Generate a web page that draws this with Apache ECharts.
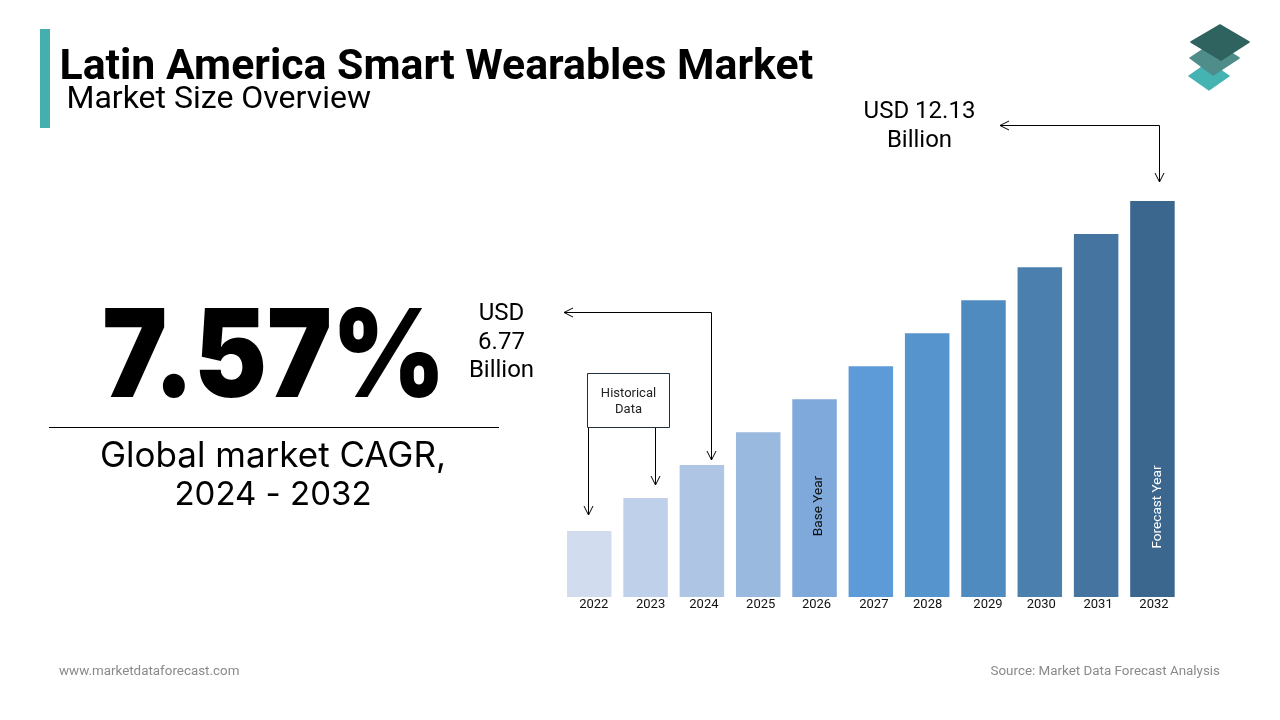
<!DOCTYPE html>
<html>
<head>
<meta charset="utf-8">
<title>Latin America Smart Wearables Market</title>
<script src="https://cdn.jsdelivr.net/npm/echarts@6/dist/echarts.min.js"></script>
<style>
    html, body { margin: 0; padding: 0; background: #fff; }
    #chart { width: 1280px; height: 720px; }
</style>
</head>
<body>
<div id="chart"></div>
<script>
// Values (the picture's scale ends at 12.13 for 2032)
var years = ['2022', '2023', '2024', '2025', '2026', '2027', '2028', '2029', '2030', '2031', '2032'];
var marketSize = [2.02, 3.03, 4.04, 5.05, 6.06, 7.07, 8.08, 9.09, 10.10, 11.12, 12.13];
var barColors = ['#d1ddee', '#bfd1ea', '#aec6e4', '#9ab9df', '#7fa9da', '#5c9bd8', '#5594cc', '#4f8bbf', '#4a7fae', '#44749f', '#3b678f'];

// the year labels in the picture sit a little off the bar centres
var labelPadLeft = [9, 10, 4, 5, 4, 6, 1, 9, 3, 4, 3];

var chart = echarts.init(document.getElementById('chart'));

function text(x, y, str, size, opts) {
    opts = opts || {};
    return {
        type: 'text',
        x: x,
        y: y,
        scaleX: opts.scaleX || 1,
        rotation: opts.rotation || 0,
        z: 20,
        style: {
            text: str,
            fill: opts.color || '#000',
            font: (opts.weight || 'normal') + ' ' + size + 'px ' + (opts.family || 'Roboto'),
            textAlign: opts.align || 'left',
            textVerticalAlign: 'middle'
        }
    };
}

// line with an open arrow head at its last point
function arrow(points) {
    var a = points[points.length - 2];
    var b = points[points.length - 1];
    var head = a[0] === b[0]
        ? [[b[0] - 4.5, b[1] - 9], b, [b[0] + 4.5, b[1] - 9]]
        : [[b[0] + 9, b[1] - 4.5], b, [b[0] + 9, b[1] + 4.5]];
    var lineStyle = { stroke: '#000', lineWidth: 1, fill: null };
    return [
        { type: 'polyline', z: 20, shape: { points: points }, style: lineStyle },
        { type: 'polyline', z: 20, shape: { points: head }, style: lineStyle }
    ];
}

function diamond(points, color) {
    return {
        type: 'polygon',
        z: 20,
        shape: { points: points },
        style: { fill: color, stroke: color, lineWidth: 1.5, lineJoin: 'round' }
    };
}

var graphics = [
    // header
    { type: 'rect', z: 20, shape: { x: 40, y: 29, width: 10, height: 99 }, style: { fill: '#45aeae' } },
    text(59.5, 68, 'Latin America Smart Wearables Market', 42.8, { weight: 'bold' }),
    text(66.5, 100, 'Market Size Overview', 32),

    // logo
    diamond([[1209, 62], [1229, 76], [1209, 90], [1189, 76]], '#46b3b3'),
    diamond([[1214, 42], [1239, 58], [1213, 75], [1190, 58]], '#4f8d8a'),
    diamond([[1220, 25], [1249, 42], [1221, 60], [1191, 42]], '#2f6360'),

    // CAGR block
    text(274, 360, '7.57%', 122, { weight: 900, family: 'Inter', align: 'center', scaleX: 0.895 }),
    { type: 'line', z: 20, shape: { x1: 49, y1: 427.5, x2: 499, y2: 427.5 }, style: { stroke: '#000', lineWidth: 1 } },
    text(273, 456, 'Global market CAGR,', 35, { family: 'Inter', align: 'center' }),
    text(273, 495, '2024 - 2032', 33, { family: 'Inter', align: 'center' }),

    // value callouts
    text(919.5, 112, 'USD 12.13', 24, { align: 'center' }),
    text(919.5, 141, 'Billion', 24, { align: 'center' }),
    text(501.5, 314, 'USD', 24, { align: 'center' }),
    text(501.5, 343, '6.77', 24, { align: 'center' }),
    text(501.5, 371, 'Billion', 24, { align: 'center' }),

    // historical data box
    { type: 'rect', z: 20, shape: { x: 587.5, y: 373.5, width: 82, height: 54 }, style: { fill: '#fff', stroke: '#1f3040', lineWidth: 1 } },
    text(628.5, 394, 'Historical', 13, { align: 'center', color: '#222' }),
    text(628.5, 410, 'Data', 13, { align: 'center', color: '#222' }),

    // text on the bars
    text(819, 506, 'Base Year', 13.6, { align: 'center', rotation: Math.PI / 2, color: '#111' }),
    text(1158, 507, 'Forecast Year', 13.6, { align: 'center', rotation: Math.PI / 2, color: '#fff' }),

    // footer
    text(59, 672, 'www.marketdataforecast.com', 13.4, { color: '#8a8a8a' }),
    text(1220, 672, 'Source: Market Data Forecast Analysis', 13.4, { color: '#8a8a8a', align: 'right' })
]
    .concat(arrow([[588.5, 428], [588.5, 515]]))
    .concat(arrow([[655.5, 428], [655.5, 485]]))
    .concat(arrow([[711.5, 312.5], [711.5, 460]]))
    .concat(arrow([[711.5, 312.5], [564, 312.5]]))
    .concat(arrow([[1159.5, 125.5], [1159.5, 182]]))
    .concat(arrow([[1159.5, 125.5], [1000, 125.5]]));

var options = {
    animation: false,
    grid: { left: 561.1, top: 201, width: 619.5, height: 396 },
    xAxis: {
        type: 'category',
        data: years.map(function (y, i) {
            return { value: y, textStyle: { padding: [0, 0, 0, labelPadLeft[i]] } };
        }),
        axisLine: { show: false },
        axisTick: { show: false },
        axisLabel: {
            color: '#111',
            fontFamily: 'Roboto',
            fontSize: 13,
            margin: 1,
            lineHeight: 14
        }
    },
    yAxis: {
        type: 'value',
        min: 0,
        max: 12.13,
        show: false,
        splitLine: { show: false }
    },
    series: [{
        type: 'bar',
        barWidth: 44.5,
        data: marketSize.map(function (v, i) {
            return { value: v, itemStyle: { color: barColors[i] } };
        })
    }],
    graphic: graphics
};

chart.setOption(options);
</script>
</body>
</html>
